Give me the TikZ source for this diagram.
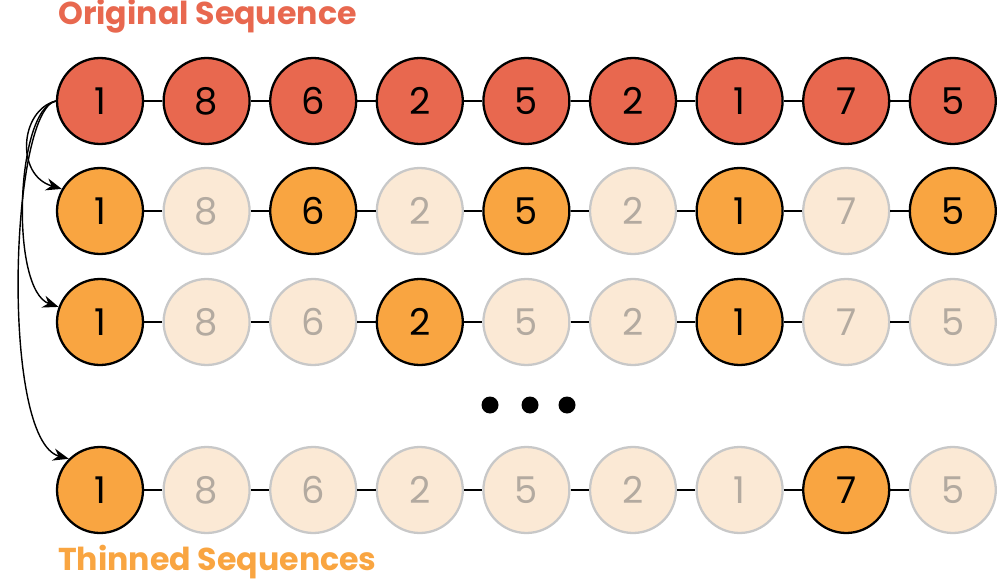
\documentclass[tikz,border=0pt]{standalone}
\usepackage{fontspec}
\setmainfont{Poppins}
\usetikzlibrary{arrows.meta}
\definecolor{redseq}{HTML}{E8684F}
\definecolor{orangeseq}{HTML}{F9A541}
\definecolor{fadeseq}{HTML}{FBE9D5}
\definecolor{fadeline}{HTML}{C8C8C8}
\definecolor{fadetext}{HTML}{B3AAA0}
\tikzset{
  elem/.style={circle, minimum size=1.72cm, inner sep=0pt, line width=1.3pt, font=\fontsize{21}{21}\selectfont},
  origelem/.style={elem, draw=black, fill=redseq},
  keptelem/.style={elem, draw=black, fill=orangeseq},
  dropelem/.style={elem, draw=fadeline, fill=fadeseq, text=fadetext},
  link/.style={black, line width=0.7pt},
  pick/.style={-{Stealth[length=9pt, width=7pt]}, line width=0.8pt}
}
\begin{document}
\begin{tikzpicture}[x=0.02cm, y=-0.02cm]
  \useasboundingbox (0,0) rectangle (1000,581);
  \node[text=redseq, font=\bfseries\fontsize{18}{18}\selectfont, anchor=west] (T1) at (52,16) {Original Sequence};
  \node[text=orangeseq, font=\bfseries\fontsize{18}{18}\selectfont, anchor=west] (T2) at (52,562) {Thinned Sequences};
  % rows: row name / y / kept positions
  \foreach \r/\y/\keep in {a/101/{1,2,3,4,5,6,7,8,9}, b/211/{1,3,5,7,9}, c/322/{1,4,7}, d/490/{1,8}} {
    \foreach \v [count=\i] in {1,8,6,2,5,2,1,7,5} {
      \def\sty{dropelem}
      \foreach \k in \keep {\ifnum\k=\i \gdef\sty{keptelem}\fi}
      \ifnum\y=101 \def\sty{origelem}\fi
      \node[\sty] (\r\i) at ({100+106.6*(\i-1)},\y) {\v};
    }
    \foreach \i [count=\j from 2] in {1,...,8}
      \draw[link] (\r\i) -- (\r\j);
  }
  \foreach \x [count=\i] in {490,530,567}
    \node[circle, fill=black, minimum size=0.34cm, inner sep=0pt] (dot\i) at (\x,405) {};
  \draw[pick] (a1.west) .. controls (20,110) and (15,175) .. (b1.150);
  \draw[pick] (a1.west) .. controls (15,110) and (10,290) .. (c1.160);
  \draw[pick] (a1.west) .. controls (10,110) and (0,440) .. (d1.135);
\end{tikzpicture}
\end{document}
